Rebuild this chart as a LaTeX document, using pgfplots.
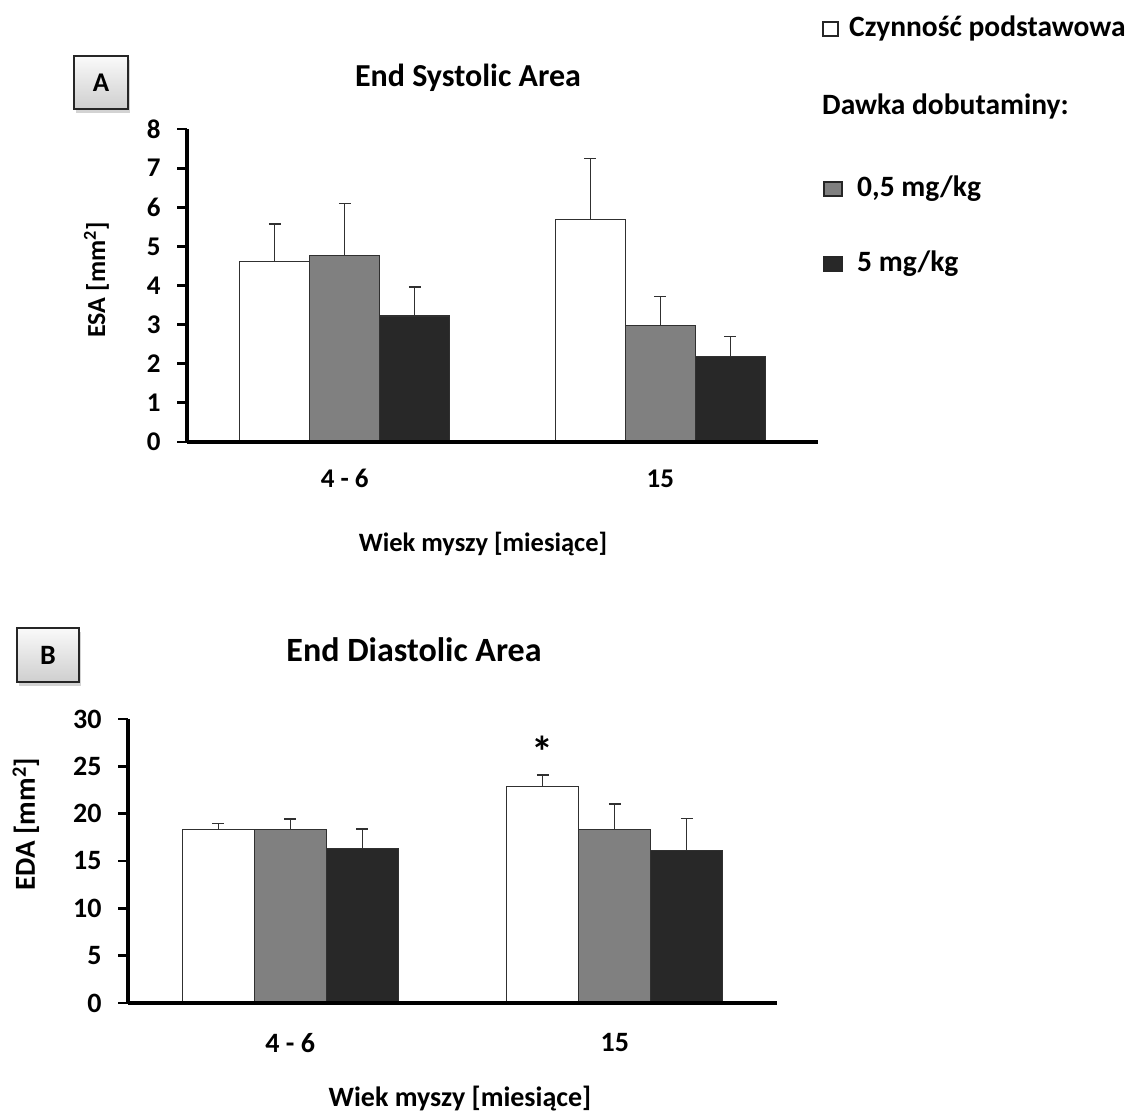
\documentclass[border=0pt]{standalone}
\usepackage{pgfplots}
\pgfplotsset{compat=1.18}
\usepackage{fontspec}
\setmainfont{Carlito}
\usetikzlibrary{shadows}
\definecolor{barGray}{HTML}{808080}
\definecolor{barBlack}{HTML}{282828}
\definecolor{edge}{HTML}{303030}
\newcommand{\fs}[1]{\fontsize{#1}{#1}\selectfont\bfseries}
\pgfplotsset{
  mybars/.style={
    scale only axis, anchor=south west, ybar=0pt,
    xmin=-0.5, xmax=1.5,
    axis x line*=bottom, axis y line*=left,
    axis on top,
    axis line style={line width=3.2pt, -},
    xtick={0,1}, xticklabels={4 - 6, 15},
    ytick style={draw=none},
    xtick style={draw=none},
    major tick length=10pt, tick align=outside,
    /pgf/number format/assume math mode=true,
    clip=false,
  },
  errs/.style={
    fill=#1, draw=edge, line width=1.3pt,
    error bars/.cd, y dir=plus, y explicit, error mark=-,
    error bar style={line width=1.4pt, edge},
    error mark options={rotate=90, line width=1.4pt, mark size=6pt, edge},
  },
}
\begin{document}
\begin{tikzpicture}
\useasboundingbox (0,0) rectangle (1133pt,1115pt);
% ---------- Panel A ----------
\begin{axis}[mybars, at={(187pt,673pt)}, width=631pt, height=313pt,
  ymin=0, ymax=8, ytick={0,1,...,8}, bar width=70pt,
  yticklabel style={font=\fs{27}, xshift=-13pt},
  xticklabel style={font=\fs{27}, yshift=-14pt}]
\addplot[errs=white] table[x=x,y=y,y error=e]{
x y e
0 4.61 0.96
1 5.68 1.56
};
\addplot[errs=barGray] table[x=x,y=y,y error=e]{
x y e
0 4.77 1.32
1 2.98 0.74
};
\addplot[errs=barBlack] table[x=x,y=y,y error=e]{
x y e
0 3.22 0.74
1 2.18 0.51
};
\draw[line width=3pt, black] (axis cs:-0.5,0) -- (axis cs:-0.5,8);
\pgfplotsinvokeforeach{0,1,...,8}{
  \draw[line width=2.8pt, black] (axis cs:-0.5,#1) -- ([xshift=-10pt]axis cs:-0.5,#1);
}
\end{axis}
% ---------- Panel B ----------
\begin{axis}[mybars, at={(128pt,112pt)}, width=649pt, height=284pt,
  ymin=0, ymax=30, ytick={0,5,...,30}, bar width=72pt,
  yticklabel style={font=\fs{28}, xshift=-13pt},
  xticklabel style={font=\fs{28}, yshift=-17pt}]
\addplot[errs=white] table[x=x,y=y,y error=e]{
x y e
0 18.35 0.60
1 22.85 1.23
};
\addplot[errs=barGray] table[x=x,y=y,y error=e]{
x y e
0 18.35 1.09
1 18.35 2.67
};
\addplot[errs=barBlack] table[x=x,y=y,y error=e]{
x y e
0 16.35 2.05
1 16.14 3.33
};
\draw[line width=3pt, black] (axis cs:-0.5,0) -- (axis cs:-0.5,30);
\pgfplotsinvokeforeach{0,5,...,30}{
  \draw[line width=2.8pt, black] (axis cs:-0.5,#1) -- ([xshift=-10pt]axis cs:-0.5,#1);
}
\node[font=\fs{44}, anchor=base, inner sep=0pt] at (axis cs:0.778,24.9) {*};
\end{axis}
% ---------- Titles and labels ----------
\node[font=\fs{32}, anchor=base, inner sep=0pt] at (468pt,1028pt) {End Systolic Area};
\node[font=\fs{34}, anchor=base, inner sep=0pt] at (414pt,453pt) {End Diastolic Area};
\node[font=\fs{26.5}, anchor=base, inner sep=0pt] at (483pt,563pt) {Wiek myszy [miesiące]};
\node[font=\fs{28}, anchor=base, inner sep=0pt] at (460pt,8pt) {Wiek myszy [miesiące]};
\node[font=\fs{26}, anchor=base, inner sep=0pt, rotate=90] at (105pt,835pt) {ESA [mm\textsuperscript{2}]};
\node[font=\fs{29}, anchor=base, inner sep=0pt, rotate=90] at (35pt,291pt) {EDA [mm\textsuperscript{2}]};
% ---------- Panel letters ----------
\node[draw=black!85, line width=1.8pt, top color=gray!4, bottom color=gray!38,
  drop shadow={shadow xshift=2pt, shadow yshift=-4pt, opacity=0.35},
  minimum width=54pt, minimum height=53pt, inner sep=0pt, font=\fs{27}]
  at (101pt,1032.5pt) {A};
\node[draw=black!85, line width=1.8pt, top color=gray!4, bottom color=gray!38,
  drop shadow={shadow xshift=2pt, shadow yshift=-4pt, opacity=0.35},
  minimum width=62pt, minimum height=54pt, inner sep=0pt, font=\fs{28}]
  at (48pt,460pt) {B};
% ---------- Legend ----------
\draw[line width=1.3pt, black!85, fill=white] (823pt,1093pt) rectangle (838pt,1079pt);
\node[font=\fs{29.5}, anchor=base west, inner sep=0pt] at (849pt,1078pt) {Czynność podstawowa};
\node[font=\fs{29.5}, anchor=base west, inner sep=0pt] at (822pt,1000pt) {Dawka dobutaminy:};
\draw[line width=1.3pt, black!85, fill=barGray] (824pt,933pt) rectangle (842pt,919pt);
\node[font=\fs{29.5}, anchor=base west, inner sep=0pt] at (857pt,918pt) {0,5 mg/kg};
\draw[line width=1.3pt, black!85, fill=barBlack] (824pt,858pt) rectangle (842pt,844pt);
\node[font=\fs{29.5}, anchor=base west, inner sep=0pt] at (857pt,843pt) {5 mg/kg};
\end{tikzpicture}
\end{document}
